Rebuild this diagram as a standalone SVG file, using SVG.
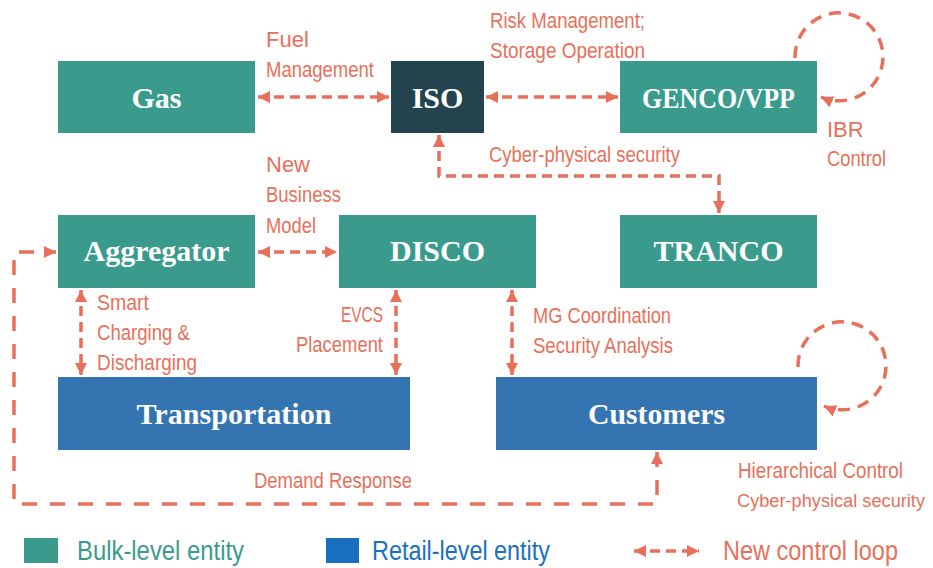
<svg xmlns="http://www.w3.org/2000/svg" width="933" height="568" viewBox="0 0 933 568">
<style>
.bulk{fill:#3A9B8C}
.iso{fill:#23444F}
.retail{fill:#3474B0}
.nt{font-family:"Liberation Serif","Times New Roman",serif;font-weight:bold;font-size:30px;fill:#fff;text-anchor:middle}
.lb{font-family:"Liberation Sans",Arial,sans-serif;font-size:22px;fill:#E8705A}
.cn{fill:none;stroke:#E8705A;stroke-width:3.5;stroke-dasharray:10 6}
.long{stroke-dasharray:15 13}
.loop{stroke-dasharray:12 8}
.lg{font-family:"Liberation Sans",Arial,sans-serif;font-size:27px}
</style>
<defs>
<marker id="ah" viewBox="0 0 12 12" refX="12" refY="6" markerWidth="12" markerHeight="12" markerUnits="userSpaceOnUse" orient="auto-start-reverse">
<path d="M0,0 L12,6 L0,12 z" fill="#E8705A"/>
</marker>
</defs>
<rect width="933" height="568" fill="#fff"/>

<g id="gas"><rect class="bulk" x="58" y="61" width="197" height="72"/><text class="nt" x="156.5" y="108">Gas</text></g>
<g id="iso"><rect class="iso" x="391" y="61" width="93" height="72"/><text class="nt" x="437.5" y="108">ISO</text></g>
<g id="genco"><rect class="bulk" x="620" y="61" width="197" height="72"/><text class="nt" x="718.5" y="108" textLength="153" lengthAdjust="spacingAndGlyphs">GENCO/VPP</text></g>
<g id="aggregator"><rect class="bulk" x="58" y="215" width="197" height="73"/><text class="nt" x="156.5" y="261">Aggregator</text></g>
<g id="disco"><rect class="bulk" x="339" y="215" width="197" height="73"/><text class="nt" x="437.5" y="261">DISCO</text></g>
<g id="tranco"><rect class="bulk" x="620" y="215" width="197" height="73"/><text class="nt" x="718.5" y="261">TRANCO</text></g>
<g id="transportation"><rect class="retail" x="58" y="377" width="352" height="73"/><text class="nt" x="234" y="424" textLength="195" lengthAdjust="spacingAndGlyphs">Transportation</text></g>
<g id="customers"><rect class="retail" x="496" y="377" width="321" height="73"/><text class="nt" x="656.5" y="424" textLength="137" lengthAdjust="spacingAndGlyphs">Customers</text></g>

<g id="connectors">
<path class="cn" d="M258,97 H389" marker-start="url(#ah)" marker-end="url(#ah)"/>
<path class="cn" d="M486,97 H618" marker-start="url(#ah)" marker-end="url(#ah)"/>
<path class="cn" d="M439,135 V176 H719 V213" marker-start="url(#ah)" marker-end="url(#ah)"/>
<path class="cn" d="M258,252 H337" marker-start="url(#ah)" marker-end="url(#ah)"/>
<path class="cn" d="M81,290 V375" marker-start="url(#ah)" marker-end="url(#ah)"/>
<path class="cn" d="M396,290 V375" marker-start="url(#ah)" marker-end="url(#ah)"/>
<path class="cn" d="M512,290 V375" marker-start="url(#ah)" marker-end="url(#ah)"/>
<path class="cn long" d="M657,452 V504 H14 V252 H56" marker-start="url(#ah)" marker-end="url(#ah)"/>
<path class="cn loop" d="M795,58 A44,44 0 1,1 821,97" marker-end="url(#ah)"/>
<path class="cn loop" d="M798,367 A44,44 0 1,1 824,406" marker-end="url(#ah)"/>
</g>

<g id="labels">
<text class="lb" x="266" y="47">Fuel</text>
<text class="lb" x="266" y="77" textLength="108" lengthAdjust="spacingAndGlyphs">Management</text>
<text class="lb" x="490" y="28" textLength="155" lengthAdjust="spacingAndGlyphs">Risk Management;</text>
<text class="lb" x="490" y="58" textLength="155" lengthAdjust="spacingAndGlyphs">Storage Operation</text>
<text class="lb" x="489" y="162" textLength="191" lengthAdjust="spacingAndGlyphs">Cyber-physical security</text>
<text class="lb" x="827" y="137">IBR</text>
<text class="lb" x="827" y="166" textLength="59" lengthAdjust="spacingAndGlyphs">Control</text>
<text class="lb" x="266" y="172">New</text>
<text class="lb" x="266" y="202" textLength="75" lengthAdjust="spacingAndGlyphs">Business</text>
<text class="lb" x="266" y="233" textLength="50" lengthAdjust="spacingAndGlyphs">Model</text>
<text class="lb" x="97" y="310" textLength="52" lengthAdjust="spacingAndGlyphs">Smart</text>
<text class="lb" x="97" y="340" textLength="93" lengthAdjust="spacingAndGlyphs">Charging &amp;</text>
<text class="lb" x="97" y="370" textLength="100" lengthAdjust="spacingAndGlyphs">Discharging</text>
<text class="lb" x="341" y="322" textLength="42" lengthAdjust="spacingAndGlyphs">EVCS</text>
<text class="lb" x="296" y="352" textLength="87" lengthAdjust="spacingAndGlyphs">Placement</text>
<text class="lb" x="533" y="323" textLength="138" lengthAdjust="spacingAndGlyphs">MG Coordination</text>
<text class="lb" x="533" y="353" textLength="140" lengthAdjust="spacingAndGlyphs">Security Analysis</text>
<text class="lb" x="254" y="488" textLength="158" lengthAdjust="spacingAndGlyphs">Demand Response</text>
<text class="lb" x="738" y="478" textLength="165" lengthAdjust="spacingAndGlyphs">Hierarchical Control</text>
<text class="lb" x="737" y="507" font-size="18.5" textLength="188" lengthAdjust="spacingAndGlyphs" style="font-size:18.5px">Cyber-physical security</text>
</g>

<g id="legend">
<rect class="bulk" x="24" y="538" width="34" height="25"/>
<text class="lg" x="77" y="560" fill="#3A9B8C" textLength="167" lengthAdjust="spacingAndGlyphs">Bulk-level entity</text>
<rect x="326" y="538" width="33" height="25" fill="#1A6FBF"/>
<text class="lg" x="372" y="560" fill="#1A6FBF" textLength="178" lengthAdjust="spacingAndGlyphs">Retail-level entity</text>
<path class="cn" d="M634,551 H699" marker-start="url(#ah)" marker-end="url(#ah)"/>
<text class="lg" x="723" y="560" fill="#E8705A" textLength="175" lengthAdjust="spacingAndGlyphs">New control loop</text>
</g>
</svg>
